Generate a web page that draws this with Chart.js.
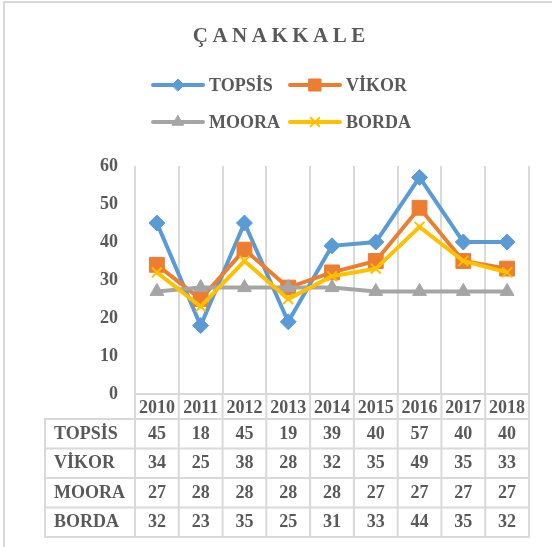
<!DOCTYPE html>
<html>
<head>
<meta charset="utf-8">
<script src="https://cdn.jsdelivr.net/npm/chart.js@4/dist/chart.umd.min.js"></script>
<style>
html, body { margin: 0; padding: 0; background: #ffffff; }
#wrap { position: relative; width: 552px; height: 547px; overflow: hidden; }
#frame { position: absolute; left: 3px; top: 1px; width: 700px; height: 700px;
         border-left: 2px solid #d9d9d9; border-top: 2px solid #d9d9d9; box-sizing: border-box; }
#c { position: absolute; left: 0; top: 0; }
</style>
</head>
<body>
<div id="wrap">
  <div id="frame"></div>
  <canvas id="c" width="552" height="547"></canvas>
</div>
<script>
// ---------- data ----------
const chartTitle = 'ÇANAKKALE';
const years = ['2010', '2011', '2012', '2013', '2014', '2015', '2016', '2017', '2018'];
const seriesNames = ['TOPSİS', 'VİKOR', 'MOORA', 'BORDA'];
const topsis = [45, 18, 45, 19, 39, 40, 57, 40, 40];
const vikor  = [34, 25, 38, 28, 32, 35, 49, 35, 33];
const moora  = [27, 28, 28, 28, 28, 27, 27, 27, 27];
const borda  = [32, 23, 35, 25, 31, 33, 44, 35, 32];
const yTicks = [0, 10, 20, 30, 40, 50, 60];

// ---------- styles ----------
const FONT = "'Liberation Serif', 'Times New Roman', serif";
const TEXT = '#595959';
const GRID = '#d9d9d9';
const seriesValues = [topsis, vikor, moora, borda];
const seriesStyles = [
  { color: '#5B9BD5', point: 'rectRot',  r: 8,    lr: 6,   bw: 1 },
  { color: '#ED7D31', point: 'rect',     r: 10.5, lr: 8.5, bw: 1 },
  { color: '#A5A5A5', point: 'triangle', r: 8,    lr: 6.5, bw: 1 },
  { color: '#FFC000', point: 'crossRot', r: 7,    lr: 6,   bw: 2 }
];

const datasets = seriesNames.map((name, i) => ({
  label: name,
  data: seriesValues[i],
  borderColor: seriesStyles[i].color,
  backgroundColor: seriesStyles[i].color,
  borderWidth: 4,
  pointStyle: seriesStyles[i].point,
  pointRadius: seriesStyles[i].r,
  pointHoverRadius: seriesStyles[i].r,
  pointBackgroundColor: seriesStyles[i].color,
  pointBorderColor: seriesStyles[i].color,
  pointBorderWidth: seriesStyles[i].bw,
  tension: 0,
  order: seriesNames.length - i
}));

function strokeLine(ctx, x1, y1, x2, y2) {
  ctx.beginPath(); ctx.moveTo(x1, y1); ctx.lineTo(x2, y2); ctx.stroke();
}

const decorPlugin = {
  id: 'decor',
  afterDraw(chart) {
    const { ctx, chartArea } = chart;
    const x = chart.scales.x;
    const half = (x.getPixelForValue(1) - x.getPixelForValue(0)) / 2;
    const bounds = years.map((_, i) => x.getPixelForValue(i) - half);
    bounds.push(x.getPixelForValue(years.length - 1) + half);
    const headBottom = chartArea.bottom + x.height;
    const rowH = 29.5;
    const labelLeft = 45;
    const tableBottom = headBottom + rowH * seriesValues.length;

    ctx.save();
    // table grid
    ctx.strokeStyle = GRID;
    ctx.lineWidth = 2;
    bounds.forEach(b => strokeLine(ctx, b, chartArea.bottom, b, tableBottom));
    strokeLine(ctx, labelLeft, headBottom, labelLeft, tableBottom);
    for (let r = 0; r <= seriesValues.length; r++) {
      const yy = headBottom + r * rowH;
      strokeLine(ctx, labelLeft - 1, yy, bounds[bounds.length - 1] + 1, yy);
    }
    // table text
    ctx.fillStyle = TEXT;
    ctx.font = 'bold 18px ' + FONT;
    ctx.textBaseline = 'middle';
    seriesValues.forEach((vals, r) => {
      const cy = headBottom + r * rowH + rowH / 2 + 0.5;
      ctx.textAlign = 'left';
      ctx.fillText(seriesNames[r], labelLeft + 9, cy);
      ctx.textAlign = 'center';
      vals.forEach((v, i) => ctx.fillText(String(v), x.getPixelForValue(i), cy));
    });

    // title
    ctx.font = 'bold 21px ' + FONT;
    ctx.textAlign = 'left';
    ctx.textBaseline = 'alphabetic';
    const spacing = 4.5;
    ctx.letterSpacing = spacing + 'px';
    const tw = ctx.measureText(chartTitle).width - spacing;
    ctx.fillText(chartTitle, 279 - tw / 2, 42);
    ctx.letterSpacing = '0px';

    // legend
    const colX = [151, 288];
    const rowY = [85, 122];
    ctx.font = 'bold 18px ' + FONT;
    ctx.textBaseline = 'middle';
    seriesNames.forEach((name, i) => {
      const st = seriesStyles[i];
      const x0 = colX[i % 2];
      const y0 = rowY[Math.floor(i / 2)];
      ctx.strokeStyle = st.color;
      ctx.lineWidth = 4;
      ctx.lineCap = 'round';
      strokeLine(ctx, x0 + 2, y0, x0 + 52, y0);
      ctx.fillStyle = st.color;
      ctx.lineWidth = st.bw;
      Chart.helpers.drawPoint(ctx, { pointStyle: st.point, radius: st.lr, borderWidth: st.bw, rotation: 0 }, x0 + 27, y0);
      ctx.fillStyle = TEXT;
      ctx.textAlign = 'left';
      ctx.fillText(name, x0 + 58, y0 + 1);
    });
    ctx.restore();
  }
};

new Chart(document.getElementById('c'), {
  type: 'line',
  data: { labels: years, datasets },
  options: {
    responsive: false,
    animation: false,
    events: [],
    layout: { padding: { left: 45, right: 23, top: 166, bottom: 128 } },
    plugins: { legend: { display: false }, title: { display: false }, tooltip: { enabled: false } },
    scales: {
      x: {
        type: 'category',
        offset: true,
        grid: { display: true, offset: true, color: GRID, lineWidth: 2, drawTicks: false },
        border: { display: true, color: GRID, width: 2 },
        ticks: { color: TEXT, font: { family: FONT, size: 18, weight: 'bold' }, padding: 4, maxRotation: 0, autoSkip: false },
        afterFit: s => { s.height = 25; }
      },
      y: {
        min: 0, max: 60,
        grid: { display: false, drawTicks: false },
        border: { display: false },
        ticks: { color: TEXT, font: { family: FONT, size: 18, weight: 'bold' }, padding: 17 },
        afterBuildTicks: s => { s.ticks = yTicks.map(v => ({ value: v })); },
        afterFit: s => { s.width = 90; }
      }
    }
  },
  plugins: [decorPlugin]
});
</script>
</body>
</html>
